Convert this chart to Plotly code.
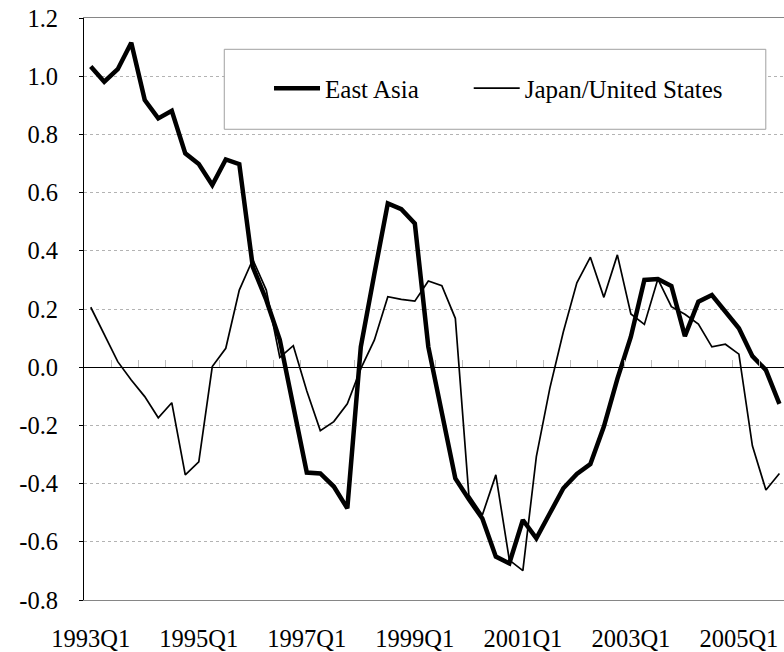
import plotly.graph_objects as go

# ---- data ----
quarters = [f"{yr}Q{q}" for yr in range(1993, 2006) for q in range(1, 5)]

east_asia = [1.033, 0.981, 1.024, 1.115, 0.918, 0.855, 0.881, 0.735, 0.698, 0.626,
             0.714, 0.698, 0.345, 0.231, 0.094, -0.135, -0.362, -0.365, -0.41, -0.485,
             0.07, 0.32, 0.563, 0.543, 0.494, 0.07, -0.16, -0.382, -0.454, -0.52,
             -0.651, -0.674, -0.525, -0.588, -0.502, -0.416, -0.367, -0.333, -0.204, -0.04,
             0.105, 0.30, 0.303, 0.279, 0.107, 0.225, 0.248, 0.192, 0.134, 0.038,
             -0.01, -0.126]

japan_us = [0.206, 0.112, 0.019, -0.044, -0.101, -0.174, -0.122, -0.37, -0.325, 0.002,
            0.065, 0.265, 0.37, 0.265, 0.034, 0.074, -0.082, -0.218, -0.187, -0.126,
            -0.005, 0.093, 0.242, 0.233, 0.227, 0.296, 0.28, 0.168, -0.439, -0.508,
            -0.37, -0.663, -0.699, -0.307, -0.072, 0.122, 0.29, 0.378, 0.24, 0.386,
            0.183, 0.147, 0.303, 0.208, 0.182, 0.148, 0.07, 0.079, 0.045, -0.27,
            -0.422, -0.365]

x_tick_labels = ["1993Q1", "1995Q1", "1997Q1", "1999Q1", "2001Q1", "2003Q1", "2005Q1"]
y_tick_vals = [1.2, 1.0, 0.8, 0.6, 0.4, 0.2, 0.0, -0.2, -0.4, -0.6, -0.8]
y_tick_text = ["1.2", "1.0", "0.8", "0.6", "0.4", "0.2", "0.0", "-0.2", "-0.4", "-0.6", "-0.8"]

FONT = "Liberation Serif"

fig = go.Figure()
fig.add_trace(go.Scatter(x=quarters, y=east_asia, mode="lines", name="East Asia",
                         legend="legend",
                         line=dict(color="black", width=4.5)))
fig.add_trace(go.Scatter(x=quarters, y=japan_us, mode="lines", name="Japan/United States",
                         legend="legend2",
                         line=dict(color="black", width=1.7)))
# helper trace so the zero-line tick axis knows the categories
fig.add_trace(go.Scatter(x=quarters, y=[None] * len(quarters), xaxis="x2", mode="lines",
                         showlegend=False, hoverinfo="skip"))

legend_common = dict(orientation="h", xanchor="left", yanchor="middle", y=0.879,
                     font=dict(size=25, family=FONT, color="black"),
                     bgcolor="rgba(0,0,0,0)", itemwidth=46)

x_range = [-0.5, 51.34]
fig.update_layout(
    width=784, height=652,
    margin=dict(l=84, r=0, t=18, b=52, autoexpand=False),
    paper_bgcolor="white", plot_bgcolor="white",
    font=dict(family=FONT, size=24.5, color="black"),
    showlegend=True,
    legend=dict(x=0.2643, **legend_common),
    legend2=dict(x=0.5496, **legend_common),
    xaxis=dict(type="category", categoryorder="array", categoryarray=quarters,
               range=x_range, tickvals=x_tick_labels, ticktext=x_tick_labels,
               showgrid=False, zeroline=False, ticks="", automargin=False,
               showline=True, linecolor="#868686", linewidth=1, mirror=True,
               ticklabelstandoff=17, tickfont=dict(size=24.5, family=FONT)),
    xaxis2=dict(type="category", categoryorder="array", categoryarray=quarters,
                matches="x", overlaying="x", anchor="free", position=0.4, side="bottom",
                tickson="boundaries", ticks="inside", ticklen=7, tickcolor="#bdbdbd",
                tickwidth=1, showticklabels=False, showgrid=False, zeroline=False,
                showline=False, automargin=False),
    yaxis=dict(range=[-0.8, 1.2], tickvals=y_tick_vals, ticktext=y_tick_text,
               showgrid=True, gridcolor="#b3b3b3", griddash="dot", gridwidth=1,
               zeroline=True, zerolinecolor="black", zerolinewidth=1.3,
               showline=True, linecolor="black", linewidth=1, automargin=False,
               ticks="outside", ticklen=4, tickcolor="black",
               ticklabelstandoff=16, tickfont=dict(size=24.5, family=FONT)),
    shapes=[dict(type="rect", xref="paper", yref="paper", x0=0.2004, x1=0.974,
                 y0=0.8088, y1=0.9462, line=dict(color="#a0a0a0", width=1),
                 fillcolor="white", layer="above")],
)

fig.write_html("out.html", config={"displayModeBar": False},
               post_script="document.body.style.margin='0';document.body.style.padding='0';")
